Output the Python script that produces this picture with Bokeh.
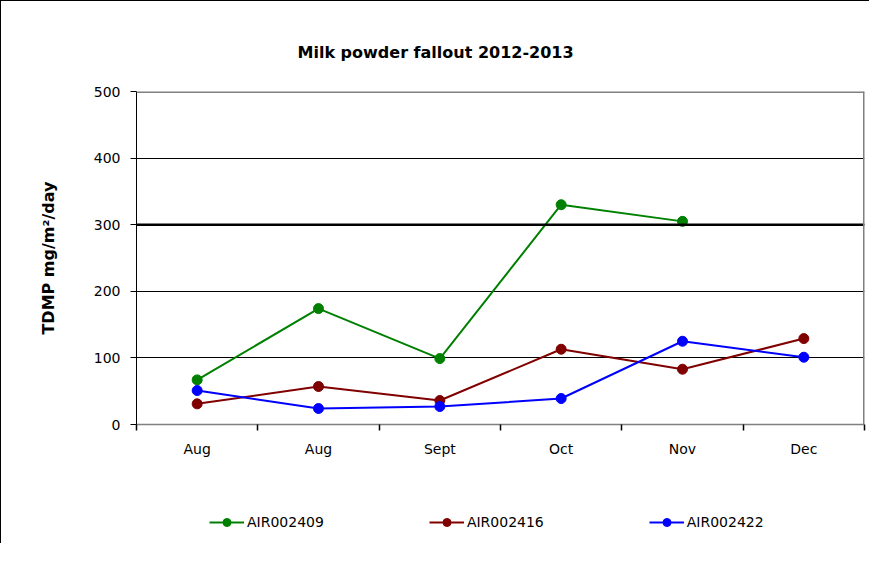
from bokeh.plotting import figure
from bokeh.layouts import column
from bokeh.models import FixedTicker, Span, Legend, LegendItem, Title
from bokeh.embed import file_html
from bokeh.resources import INLINE

categories = ["Aug", "Aug", "Sept", "Oct", "Nov", "Dec"]
x_pos = [0.5, 1.5, 2.5, 3.5, 4.5, 5.5]
air002409 = [67, 174, 99, 330, 305]
air002416 = [31, 57, 36, 113, 83, 129]
air002422 = [51, 24, 27, 39, 125, 101]
y_ticks = [0, 100, 200, 300, 400, 500]
series_names = ["AIR002409", "AIR002416", "AIR002422"]
series_colors = ["#008000", "#800000", "#0000FF"]
series_values = [air002409, air002416, air002422]

FONT = "DejaVu Sans"

p = figure(width=869, height=463, x_range=(0, 6), y_range=(0, 500),
           output_backend="svg", toolbar_location=None,
           min_border_left=135, min_border_top=90, min_border_right=6, min_border_bottom=40,
           styles={"border-left": "1px solid black", "border-top": "1px solid black"})
p.outline_line_color = None
p.background_fill_color = "white"

p.title = Title(text="Milk powder fallout 2012-2013", align="left", offset=161,
                text_font=FONT, text_font_size="16px", text_font_style="bold",
                text_color="black", standoff=60)

# axes
p.xaxis.ticker = FixedTicker(ticks=x_pos, minor_ticks=[0, 1, 2, 3, 4, 5, 6])
p.xaxis.major_label_overrides = {x: c for x, c in zip(x_pos, categories)}
p.xaxis.major_tick_line_color = None
p.xaxis.minor_tick_line_color = "black"
p.xaxis.minor_tick_out = 6
p.xaxis.minor_tick_in = 0
p.xaxis.minor_tick_line_width = 1.5
p.xaxis.axis_line_color = "#808080"
p.xaxis.axis_line_width = 1.5
p.xaxis.major_label_text_font = FONT
p.xaxis.major_label_text_font_size = "14px"
p.xaxis.major_label_text_color = "black"
p.xaxis.major_label_standoff = 10

p.yaxis.ticker = FixedTicker(ticks=y_ticks, minor_ticks=[])
p.yaxis.axis_line_color = "black"
p.yaxis.major_tick_line_color = "black"
p.yaxis.major_tick_out = 6
p.yaxis.major_tick_in = 0
p.yaxis.major_label_text_font = FONT
p.yaxis.major_label_text_font_size = "14px"
p.yaxis.major_label_text_color = "black"
p.yaxis.major_label_standoff = 10
p.yaxis.axis_label = "TDMP mg/m²/day"
p.yaxis.axis_label_text_font = FONT
p.yaxis.axis_label_text_font_size = "16px"
p.yaxis.axis_label_text_font_style = "bold"
p.yaxis.axis_label_text_color = "black"
p.yaxis.axis_label_standoff = 33

p.xgrid.grid_line_color = None
p.ygrid.grid_line_color = "black"
p.ygrid.grid_line_width = 1

p.add_layout(Span(location=300, dimension="width", line_color="black", line_width=2.5))
p.add_layout(Span(location=500, dimension="width", line_color="#808080", line_width=3))
p.add_layout(Span(location=6, dimension="height", line_color="#808080", line_width=3))

for name, col, vals in zip(series_names, series_colors, series_values):
    xs = x_pos[:len(vals)]
    p.line(xs, vals, line_color=col, line_width=2)
    p.scatter(xs, vals, marker="circle", size=10, fill_color=col, line_color=col)

# legend strip below the chart (same series, drawn outside its visible range)
p2 = figure(width=869, height=80, x_range=(0, 6), y_range=(1000, 1001),
            output_backend="svg", toolbar_location=None,
            x_axis_location=None, y_axis_location=None,
            min_border_left=0, min_border_right=0, min_border_top=0, min_border_bottom=0,
            styles={"border-left": "1px solid black"})
p2.outline_line_color = None
p2.xgrid.grid_line_color = None
p2.ygrid.grid_line_color = None

items = []
for name, col, vals in zip(series_names, series_colors, series_values):
    xs = x_pos[:len(vals)]
    r1 = p2.line(xs, vals, line_color=col, line_width=2)
    r2 = p2.scatter(xs, vals, marker="circle", size=10, fill_color=col, line_color=col)
    items.append(LegendItem(label=name, renderers=[r1, r2]))

legend = Legend(items=items, orientation="horizontal", location=(73, 11),
                padding=0, margin=0, spacing=105, glyph_width=35, glyph_height=20,
                label_standoff=3, label_text_font=FONT, label_text_font_size="14px",
                label_text_color="black", border_line_color=None, background_fill_alpha=0)
p2.add_layout(legend)

layout = column(p, p2, spacing=0)
open("out.html", "w").write(file_html(layout, INLINE))
